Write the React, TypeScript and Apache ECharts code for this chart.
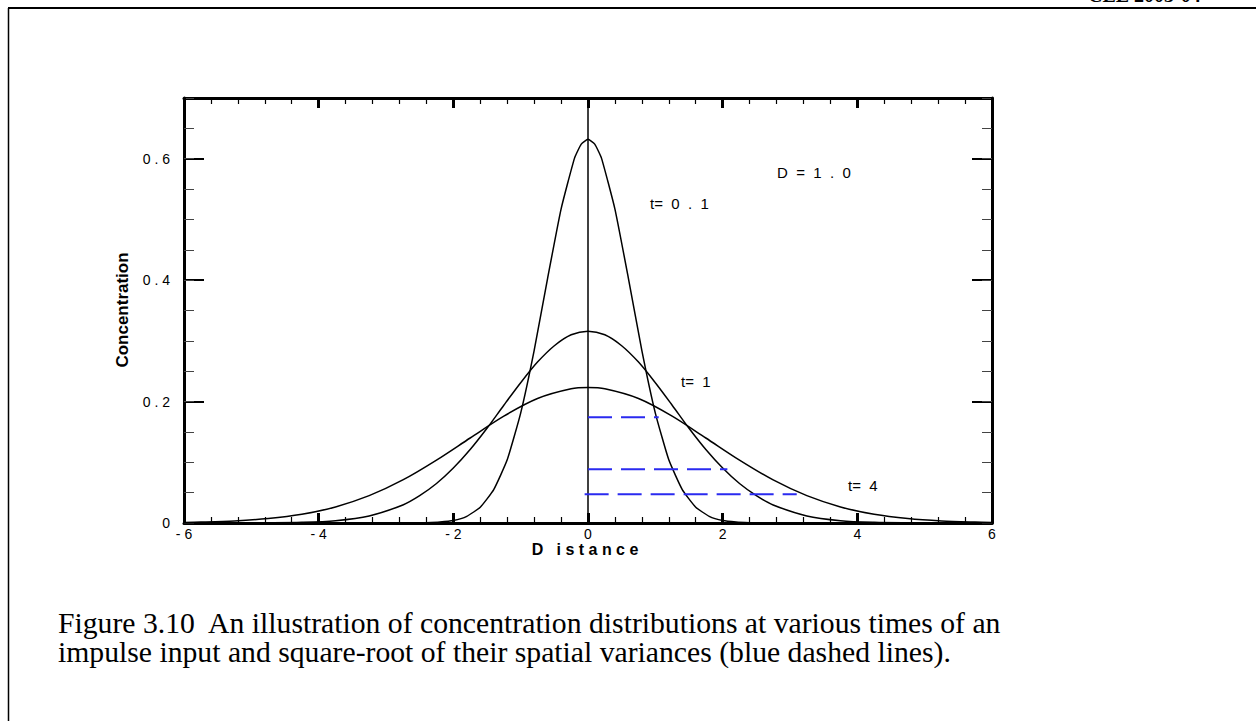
import React, { useEffect, useRef } from "react";
import * as echarts from "echarts";

// ---- data ----
const distanceT01 = [-2.6, -2.4, -2.2, -2.0, -1.8, -1.6, -1.4, -1.2, -1.0, -0.8, -0.6, -0.4, -0.2, -0.1, 0, 0.1, 0.2, 0.4, 0.6, 0.8, 1.0, 1.2, 1.4, 1.6, 1.8, 2.0, 2.2, 2.4, 2.6];
const concT01 = [0, 0.0005, 0.0015, 0.004, 0.011, 0.026, 0.055, 0.104, 0.181, 0.284, 0.403, 0.517, 0.601, 0.624, 0.632, 0.624, 0.601, 0.517, 0.403, 0.284, 0.181, 0.104, 0.055, 0.026, 0.011, 0.004, 0.0015, 0.0005, 0];

const distanceT1 = [-6, -5.5, -5.25, -4.75, -4.25, -3.75, -3.25, -2.75, -2.5, -2.25, -2, -1.75, -1.5, -1.25, -1, -0.75, -0.5, -0.25, 0, 0.25, 0.5, 0.75, 1, 1.25, 1.5, 1.75, 2, 2.25, 2.5, 2.75, 3.25, 3.75, 4.25, 4.75, 5.25, 5.5, 6];
const concT1 = [0, 0, 0.0001, 0.0003, 0.0011, 0.0039, 0.0117, 0.0297, 0.045, 0.065, 0.0905, 0.121, 0.156, 0.194, 0.231, 0.265, 0.292, 0.31, 0.316, 0.31, 0.292, 0.265, 0.231, 0.194, 0.156, 0.121, 0.0905, 0.065, 0.045, 0.0297, 0.0117, 0.0039, 0.0011, 0.0003, 0.0001, 0, 0];

const distanceT4 = [-6, -5.75, -5.25, -4.75, -4.25, -3.75, -3.25, -2.75, -2.25, -1.75, -1.25, -0.75, -0.25, 0, 0.25, 0.75, 1.25, 1.75, 2.25, 2.75, 3.25, 3.75, 4.25, 4.75, 5.25, 5.75, 6];
const concT4 = [0.001, 0.0015, 0.0034, 0.0073, 0.0144, 0.0265, 0.045, 0.0709, 0.1036, 0.14, 0.176, 0.205, 0.221, 0.223, 0.221, 0.205, 0.176, 0.14, 0.1036, 0.0709, 0.045, 0.0265, 0.0144, 0.0073, 0.0034, 0.0015, 0.001];

// square-root of spatial variance markers (blue dashed)
const sigmaLevel = [0.174, 0.0885, 0.0475];
const sigmaStart = [0, 0, -0.05];
const sigmaEnd = [1.05, 2.07, 3.1];

const xMin = -6;
const xMax = 6;
const yMin = 0;
const yMax = 0.7;

const curveLabels = ["t=  0  .  1", "t=  1", "t=  4"];
const paramLabel = "D  =  1  .  0";
const xTitle = "D   i s t a n c e";
const yTitle = "Concentration";
const captionLines = [
  "Figure 3.10  An illustration of concentration distributions at various times of an",
  "impulse input and square-root of their spatial variances (blue dashed lines).",
];
const headerText = "CEE 2003-04";

const SANS = "Liberation Sans, Arial, sans-serif";
const SERIF = "Liberation Serif, Times New Roman, serif";

const spaced = (v: number) => {
  const s = String(Number(v.toFixed(3)));
  return s.split("").join(" ");
};

export default function App() {
  const ref = useRef<HTMLDivElement>(null);
  useEffect(() => {
    if (!ref.current) return;
    const chart = echarts.init(ref.current, undefined, { renderer: "svg" });

    const baseX = (pos: "bottom" | "top", showLabel: boolean) => ({
      type: "value",
      position: pos,
      min: xMin,
      max: xMax,
      interval: 2,
      axisLine: { show: true, onZero: false, lineStyle: { color: "#000", width: 3 } },
      axisTick: { show: true, inside: true, length: 10, lineStyle: { color: "#000", width: 3 } },
      minorTick: { show: true, splitNumber: 5, length: 6, lineStyle: { color: "#000", width: 1.2 } },
      splitLine: { show: false },
      axisLabel: {
        show: showLabel,
        margin: 4,
        color: "#000",
        fontFamily: SANS,
        fontSize: 14,
        formatter: (v: number) => spaced(v),
      },
    });

    const majorY = (pos: "left" | "right", showLabel: boolean) => ({
      type: "value",
      position: pos,
      min: yMin,
      max: yMax,
      interval: 0.2,
      axisLine: { show: true, onZero: false, lineStyle: { color: "#000", width: 3 } },
      axisTick: { show: true, inside: true, length: 20, lineStyle: { color: "#000", width: 2 } },
      splitLine: { show: false },
      axisLabel: {
        show: showLabel,
        margin: 14,
        color: "#000",
        fontFamily: SANS,
        fontSize: 14,
        showMaxLabel: false,
        formatter: (v: number) => (v > 0.65 ? "" : spaced(v)),
      },
    });

    const minorY = (pos: "left" | "right") => ({
      type: "value",
      position: pos,
      min: yMin,
      max: yMax,
      interval: 0.05,
      axisLine: { show: false, onZero: false },
      axisTick: { show: true, inside: true, length: 10, lineStyle: { color: "#444", width: 1 } },
      splitLine: { show: false },
      axisLabel: { show: false },
    });

    const curve = (xs: number[], ys: number[], smooth: number | boolean) => ({
      type: "line",
      xAxisIndex: 0,
      yAxisIndex: 0,
      data: xs.map((x, i) => [x, ys[i]]),
      showSymbol: false,
      symbol: "none",
      smooth,
      lineStyle: { color: "#000", width: 1.5 },
      silent: true,
    });

    const dashed = sigmaLevel.map((lv, i) => ({
      type: "line",
      xAxisIndex: 0,
      yAxisIndex: 0,
      data: [
        [sigmaStart[i], lv],
        [sigmaEnd[i], lv],
      ],
      showSymbol: false,
      symbol: "none",
      lineStyle: { color: "#2a2af0", width: 2, type: [24, 9] },
      silent: true,
    }));

    chart.setOption({
      animation: false,
      backgroundColor: "#fff",
      grid: { left: 184, top: 98, width: 808, height: 425 },
      xAxis: [baseX("bottom", true), baseX("top", false)],
      yAxis: [majorY("left", true), minorY("left"), majorY("right", false), minorY("right")],
      series: [
        {
          type: "line",
          xAxisIndex: 0,
          yAxisIndex: 0,
          data: [
            [0, yMin],
            [0, yMax],
          ],
          showSymbol: false,
          symbol: "none",
          lineStyle: { color: "#000", width: 1.5 },
          silent: true,
        },
        curve(distanceT01, concT01, 0.15),
        curve(distanceT1, concT1, 0.3),
        curve(distanceT4, concT4, 0.3),
        ...dashed,
      ],
      graphic: [
        { type: "line", shape: { x1: 8, y1: 8, x2: 1256, y2: 8 }, style: { stroke: "#000", lineWidth: 2 } },
        { type: "line", shape: { x1: 8.5, y1: 8, x2: 8.5, y2: 721 }, style: { stroke: "#000", lineWidth: 1.5 } },
        {
          type: "text",
          x: 1088,
          y: 5,
          style: { text: headerText, font: `bold 20px ${SERIF}`, fill: "#000", align: "left", verticalAlign: "bottom" },
        },
        {
          type: "text",
          x: 650,
          y: 203,
          style: { text: curveLabels[0], font: `15px ${SANS}`, fill: "#000", align: "left", verticalAlign: "middle" },
        },
        {
          type: "text",
          x: 681,
          y: 381,
          style: { text: curveLabels[1], font: `15px ${SANS}`, fill: "#000", align: "left", verticalAlign: "middle" },
        },
        {
          type: "text",
          x: 848,
          y: 485,
          style: { text: curveLabels[2], font: `15px ${SANS}`, fill: "#000", align: "left", verticalAlign: "middle" },
        },
        {
          type: "text",
          x: 777,
          y: 172,
          style: { text: paramLabel, font: `15px ${SANS}`, fill: "#000", align: "left", verticalAlign: "middle" },
        },
        {
          type: "text",
          x: 585,
          y: 549,
          style: { text: xTitle, font: `bold 16px ${SANS}`, fill: "#000", align: "center", verticalAlign: "middle" },
        },
        {
          type: "text",
          x: 122,
          y: 310,
          rotation: Math.PI / 2,
          style: { text: yTitle, font: `bold 17px ${SANS}`, fill: "#000", align: "center", verticalAlign: "middle" },
        },
        {
          type: "text",
          x: 58,
          y: 623,
          style: { text: captionLines[0], font: `29.7px ${SERIF}`, fill: "#000", align: "left", verticalAlign: "middle" },
        },
        {
          type: "text",
          x: 58,
          y: 652,
          style: { text: captionLines[1], font: `29.7px ${SERIF}`, fill: "#000", align: "left", verticalAlign: "middle" },
        },
      ],
    });
    return () => chart.dispose();
  }, []);
  return <div ref={ref} style={{ position: "absolute", left: 0, top: 0, width: 1256, height: 721 }} />;
}
